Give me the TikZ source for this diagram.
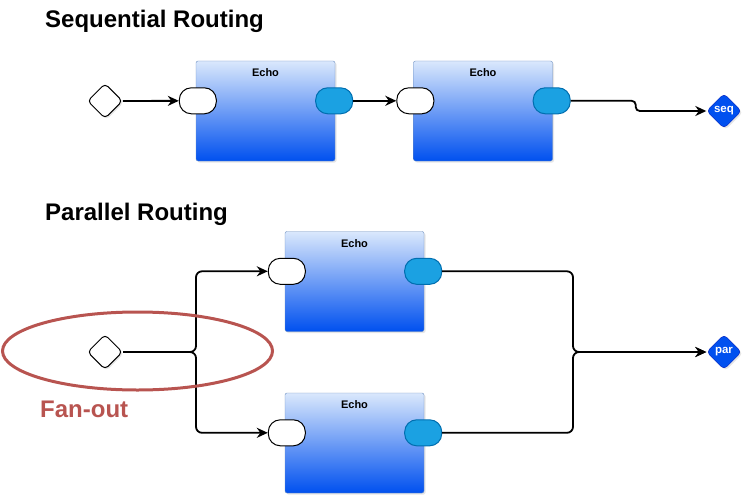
\documentclass[tikz,border=0pt]{standalone}
\usepackage{fontspec}
\setmainfont{Liberation Sans}
\usepackage{tikz}
\usetikzlibrary{
  positioning,
  calc,
  arrows.meta,
  shapes.geometric,
  shadows
}

\definecolor{boxtop}{HTML}{DAE8FC}
\definecolor{boxbottom}{HTML}{0050EF}
\definecolor{boxline}{HTML}{6C8EBF}
\definecolor{portblue}{HTML}{1BA1E2}
\definecolor{portline}{HTML}{006EAF}
\definecolor{enddark}{HTML}{001DBC}
\definecolor{fanred}{HTML}{B85450}

\begin{document}
\begin{tikzpicture}[
      x=1pt, y=-1pt,
      echobox/.style={rectangle, rounded corners=2pt, draw=boxline, top color=boxtop, bottom color=boxbottom,
        minimum width=139pt, minimum height=100pt, inner sep=0pt,
        drop shadow={shadow xshift=1.5pt, shadow yshift=-1.5pt, opacity=0.2}},
      inport/.style={rectangle, rounded corners=12pt, draw=black, fill=white, minimum width=37pt, minimum height=26pt, inner sep=0pt, line width=1pt},
      outport/.style={rectangle, rounded corners=12pt, draw=portline, fill=portblue, minimum width=37pt, minimum height=26pt, inner sep=0pt, line width=1pt},
      startnode/.style={diamond, aspect=1, rounded corners=4pt, draw=black, fill=white, minimum size=35pt, inner sep=0pt, line width=1pt,
        drop shadow={shadow xshift=1.5pt, shadow yshift=-1.5pt, opacity=0.2}},
      endnode/.style={diamond, aspect=1, rounded corners=4pt, draw=enddark, fill=boxbottom, minimum size=35pt, inner sep=0pt,
        text=white, font=\fontsize{11.5}{13}\selectfont\bfseries,
        drop shadow={shadow xshift=1.5pt, shadow yshift=-1.5pt, opacity=0.2}},
      heading/.style={anchor=base west, inner sep=0pt, font=\fontsize{24}{28}\selectfont\bfseries},
      arrow/.style={-{Stealth[length=11pt, width=10pt]}, line width=1.8pt, rounded corners=6pt}
    ]
      \useasboundingbox (0,0) rectangle (751,500);

      % Headings
      \node[heading] (seqtitle) at (45,28) {Sequential Routing};
      \node[heading] (partitle) at (45,220) {Parallel Routing};

      % Echo boxes with their ports
      \foreach \n/\x/\y in {A/265.5/111, B/483/111, C/354.5/281.5, D/354.5/443}{
        \node[echobox] (echo\n) at (\x,\y) {};
        \node[font=\fontsize{11}{13}\selectfont\bfseries, below=8pt of echo\n.north, inner sep=0pt] (label\n) {Echo};
        \node[inport] (in\n) at ($(echo\n.north west)+(2,40)$) {};
        \node[outport] (out\n) at ($(echo\n.north east)+(-1,40)$) {};
      }

      % Start and end points
      \node[startnode] (startS) at (105,101) {};
      \node[endnode] (endS) at (724,111) {seq};
      \node[startnode] (startP) at (105,352) {};
      \node[endnode] (endP) at (724,352) {par};
      \coordinate (fork) at (196,352);
      \coordinate (join) at (573,352);

      % Sequential arrows
      \draw[arrow] (startS) -- (inA);
      \draw[arrow] (outA) -- (inB);
      \draw[arrow, rounded corners=4pt] (outB.east) -- ++(65,0) |- (endS.west);

      % Parallel arrows
      \draw[arrow] (startP.east) -- (fork) |- (inC.west);
      \draw[arrow] (startP.east) -- (fork) |- (inD.west);
      \draw[arrow] (outC.east) -| (join) -- (endP.west);
      \draw[arrow] (outD.east) -| (join) -- (endP.west);

      % Fan-out annotation
      \node[draw=fanred, line width=3pt, ellipse, minimum width=270pt, minimum height=78pt] (fanring) at (137.5,351) {};
      \node[anchor=base west, inner sep=0pt, text=fanred, font=\fontsize{24}{28}\selectfont\bfseries] (fanlabel) at (40,417) {Fan-out};
    \end{tikzpicture}
\end{document}
